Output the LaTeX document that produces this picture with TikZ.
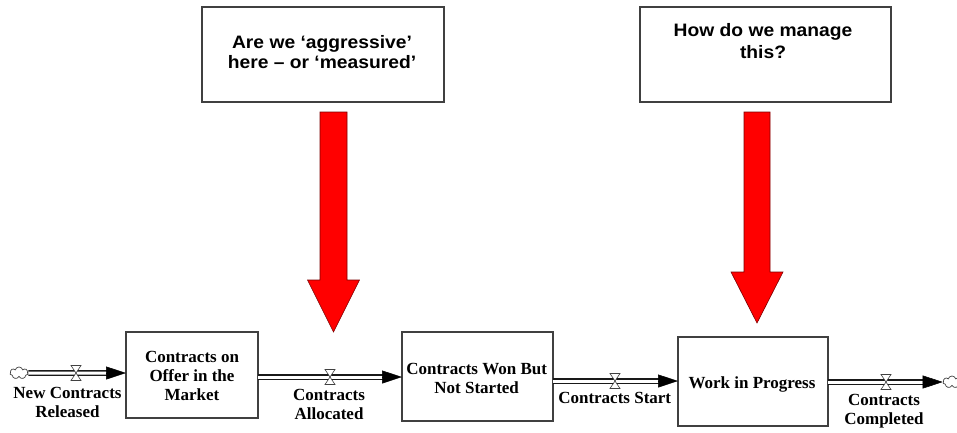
\documentclass[tikz,border=0pt]{standalone}
\usepackage{fontspec}
\setmainfont{Liberation Serif}
\newfontfamily\qfont{Liberation Sans}[FakeStretch=1.07]
\usetikzlibrary{shapes.symbols,arrows.meta,calc}
\definecolor{edgecol}{HTML}{404040}
\definecolor{arrowedge}{HTML}{7A0000}
\definecolor{bigred}{HTML}{FF0000}
\begin{document}
\begin{tikzpicture}[x=1pt,y=-1pt,
  qbox/.style={draw=edgecol, line width=1.1pt, inner sep=0pt, outer sep=0pt},
  qtext/.style={font=\qfont\bfseries\fontsize{18}{20}\selectfont, align=center, inner sep=0pt},
  stock/.style={draw=edgecol, line width=1.2pt, inner sep=0pt, outer sep=0pt},
  stocktext/.style={font=\bfseries\fontsize{17}{19}\selectfont, align=center, inner sep=0pt},
  flowlabel/.style={font=\bfseries\fontsize{17}{19}\selectfont, align=center, inner sep=0pt},
  valve/.style={inner sep=0pt, outer sep=0pt, minimum width=10pt, minimum height=15pt},
  valveshape/.style={draw=edgecol, fill=white, line width=0.6pt},
  cloudnode/.style={cloud, cloud puffs=7, aspect=1.5, draw=edgecol, line width=0.7pt,
                    minimum width=18pt, minimum height=12pt, inner sep=0pt},
  pipe/.style={draw=black!90, line width=1.3pt, double=white, double distance=3pt, shorten >=16pt},
  pipehead/.style={-{Triangle[length=20pt,width=13pt]}, draw=black, line width=0.5pt},
  bigarrow/.style={fill=bigred, draw=arrowedge, line width=0.6pt, line join=miter}
]
\useasboundingbox (0,0) rectangle (957,432);

% question boxes
\node[qbox, minimum width=242pt, minimum height=95pt] (q1) at (323,54.5) {};
\node[qtext] (q1t) at (322,52.45) {Are we ‘aggressive’\\here – or ‘measured’};
\node[qbox, minimum width=251pt, minimum height=95pt] (q2) at (765.5,54.5) {};
\node[qtext, font=\qfont\bfseries\fontsize{18}{21.6}\selectfont] (q2t) at (763,41) {How do we manage\\this?};

% red block arrows
\filldraw[bigarrow] (320,112) -- (347,112) -- (347,280) -- (359.5,280) -- (333.5,332)
  -- (307.5,280) -- (320,280) -- cycle;
\filldraw[bigarrow] (744,112) -- (770,112) -- (770,272) -- (783,272) -- (757,323)
  -- (731,272) -- (744,272) -- cycle;

% stocks
\node[stock, minimum width=132pt, minimum height=86pt] (boxA) at (192,375) {};
\node[stocktext] (boxAt) at (192,375.9) {Contracts on\\Offer in the\\Market};
\node[stock, minimum width=151pt, minimum height=89pt] (boxB) at (477.5,376.5) {};
\node[stocktext] (boxBt) at (476.7,378) {Contracts Won But\\Not Started};
\node[stock, minimum width=150pt, minimum height=89pt] (boxC) at (753,381.5) {};
\node[stocktext, anchor=base] (boxCt) at (752,388.7) {Work in Progress};

% clouds
\node[cloudnode] (src) at (19,373) {};
\node[cloudnode] (sink) at (952,382) {};

% valves (positions)
\node[valve] (v1) at (76,373) {};
\node[valve] (v2) at (330,377) {};
\node[valve] (v3) at (615,381) {};
\node[valve] (v4) at (886,382) {};

% pipes
\draw[pipe] (src.east) -- (boxA.west |- v1);
\draw[pipehead] ($(boxA.west |- v1)+(-20,0)$) -- (boxA.west |- v1);
\draw[pipe] (boxA.east |- v2) -- (boxB.west |- v2);
\draw[pipehead] ($(boxB.west |- v2)+(-20,0)$) -- (boxB.west |- v2);
\draw[pipe] (boxB.east |- v3) -- (boxC.west |- v3);
\draw[pipehead] ($(boxC.west |- v3)+(-20,0)$) -- (boxC.west |- v3);
\draw[pipe] (boxC.east |- v4) -- (sink.west |- v4);
\draw[pipehead] ($(sink.west |- v4)+(-20,0)$) -- (sink.west |- v4);

% valve hourglasses
\foreach \v in {v1,v2,v3,v4}{
  \filldraw[valveshape] (\v.north west) -- (\v.north east) -- (\v.south west) -- (\v.south east) -- cycle;
}

% flow labels
\node[flowlabel] (l1) at (67.5,402.7) {New Contracts\\Released};
\node[flowlabel] (l2) at (329,404.4) {Contracts\\Allocated};
\node[flowlabel, anchor=base] (l3) at (614.7,403) {Contracts Start};
\node[flowlabel] (l4) at (884,411.5) {Contracts\\Completed};
\end{tikzpicture}
\end{document}
